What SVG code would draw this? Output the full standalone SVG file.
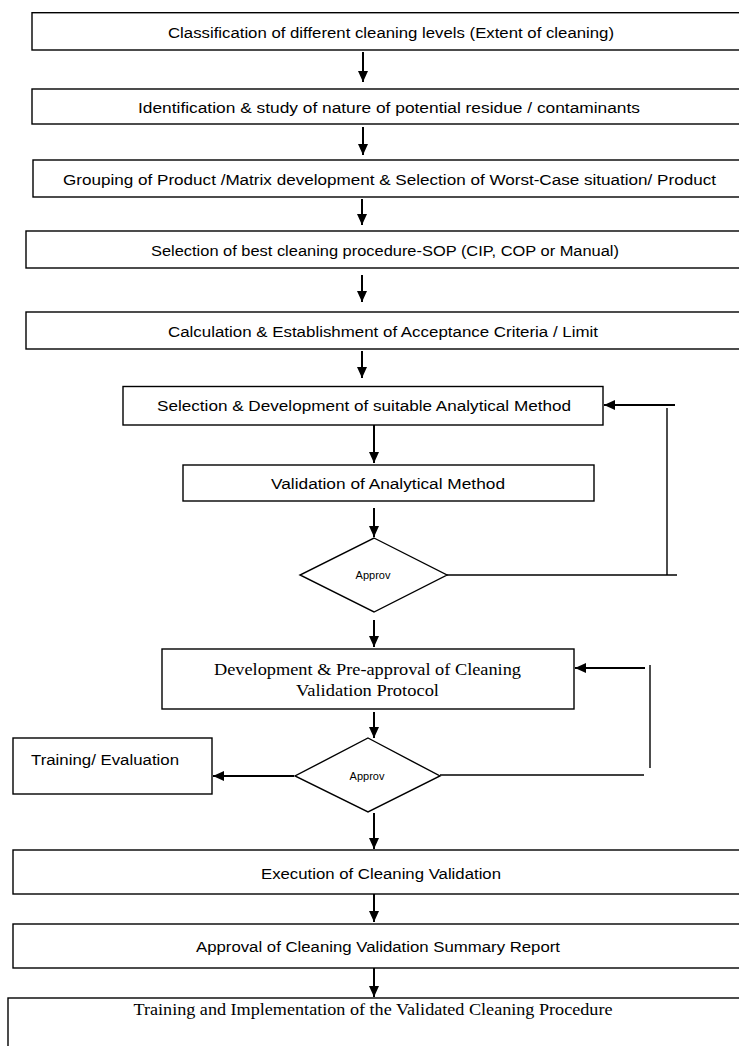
<svg xmlns="http://www.w3.org/2000/svg" width="739" height="1046" viewBox="0 0 739 1046">
<defs>
<style>
.box{fill:#fff;stroke:#000;stroke-width:1.4}
.t{font-family:"Liberation Sans",Arial,sans-serif;font-size:15.5px;fill:#000;text-anchor:middle}
.s{font-family:"Liberation Serif","Times New Roman",serif;font-size:17px;fill:#000;text-anchor:middle}
.sm{font-family:"Liberation Sans",Arial,sans-serif;font-size:11px;fill:#000;text-anchor:middle}
.ar{fill:none;stroke:#000;stroke-width:2;marker-end:url(#ah)}
.ln{fill:none;stroke:#000;stroke-width:1.4}
</style>
<marker id="ah" markerUnits="userSpaceOnUse" markerWidth="11" markerHeight="10" refX="11" refY="5" orient="auto">
<path d="M0,0 L11,5 L0,10 z" fill="#000"/>
</marker>
</defs>
<rect width="739" height="1046" fill="#fff"/>
<g id="n1"><rect class="box" x="32" y="12.7" width="740" height="37.3"/><text class="t" x="391" y="38" textLength="446" lengthAdjust="spacingAndGlyphs">Classification of different cleaning levels (Extent of cleaning)</text></g>
<g id="n2"><rect class="box" x="32" y="89" width="740" height="35"/><text class="t" x="389" y="113" textLength="502" lengthAdjust="spacingAndGlyphs">Identification &amp; study of nature of potential residue / contaminants</text></g>
<g id="n3"><rect class="box" x="33" y="160" width="740" height="37"/><text class="t" x="389.5" y="185" textLength="653" lengthAdjust="spacingAndGlyphs">Grouping of Product /Matrix development &amp; Selection of Worst-Case situation/ Product</text></g>
<g id="n4"><rect class="box" x="26" y="231" width="740" height="37"/><text class="t" x="385" y="256" textLength="468" lengthAdjust="spacingAndGlyphs">Selection of best cleaning procedure-SOP (CIP, COP or Manual)</text></g>
<g id="n5"><rect class="box" x="26" y="312" width="740" height="37"/><text class="t" x="383" y="337" textLength="430" lengthAdjust="spacingAndGlyphs">Calculation &amp; Establishment of Acceptance Criteria / Limit</text></g>
<g id="n6"><rect class="box" x="123" y="386.5" width="480" height="38.5"/><text class="t" x="364" y="411" textLength="414" lengthAdjust="spacingAndGlyphs">Selection &amp; Development of suitable Analytical Method</text></g>
<g id="n7"><rect class="box" x="183" y="465" width="411" height="36"/><text class="t" x="388" y="489" textLength="234" lengthAdjust="spacingAndGlyphs">Validation of Analytical Method</text></g>
<g id="d1"><polygon class="box" points="374,538 447,575 374,612 300,575"/><text class="sm" x="373" y="579">Approv</text></g>
<g id="n8"><rect class="box" x="162" y="649" width="412" height="60"/><text class="s" x="367.5" y="674.5" textLength="307" lengthAdjust="spacingAndGlyphs">Development &amp; Pre-approval of Cleaning</text><text class="s" x="367.5" y="696" textLength="143" lengthAdjust="spacingAndGlyphs">Validation Protocol</text></g>
<g id="d2"><polygon class="box" points="368,738 440,776 368,812 295,776"/><text class="sm" x="367" y="780">Approv</text></g>
<g id="n9"><rect class="box" x="13" y="738" width="199" height="56"/><text class="t" x="31" y="765" style="text-anchor:start" textLength="148" lengthAdjust="spacingAndGlyphs">Training/ Evaluation</text></g>
<g id="n10"><rect class="box" x="13" y="850" width="750" height="44"/><text class="t" x="381" y="878.5" textLength="240" lengthAdjust="spacingAndGlyphs">Execution of Cleaning Validation</text></g>
<g id="n11"><rect class="box" x="13" y="924" width="750" height="44"/><text class="t" x="378" y="951.5" textLength="364" lengthAdjust="spacingAndGlyphs">Approval of Cleaning Validation Summary Report</text></g>
<g id="n12"><rect class="box" x="8" y="998" width="760" height="70"/><text class="s" x="373" y="1014.5" style="font-size:16px" textLength="479" lengthAdjust="spacingAndGlyphs">Training and Implementation of the Validated Cleaning Procedure</text></g>
<g id="connectors">
<line class="ar" x1="363" y1="52" x2="363" y2="82"/>
<line class="ar" x1="363" y1="127" x2="363" y2="155"/>
<line class="ar" x1="362" y1="199" x2="362" y2="225"/>
<line class="ar" x1="362" y1="275" x2="362" y2="302"/>
<line class="ar" x1="362" y1="351" x2="362" y2="378"/>
<line class="ar" x1="374" y1="425" x2="374" y2="463"/>
<line class="ar" x1="374" y1="508" x2="374" y2="537"/>
<line class="ar" x1="374" y1="620" x2="374" y2="647"/>
<line class="ar" x1="374" y1="712" x2="374" y2="738"/>
<line class="ar" x1="374" y1="813" x2="374" y2="849"/>
<line class="ar" x1="374" y1="894" x2="374" y2="922"/>
<line class="ar" x1="374" y1="968" x2="374" y2="997"/>
<line class="ar" x1="294" y1="776" x2="213" y2="776"/>
<line class="ar" x1="675" y1="405" x2="604" y2="405"/>
<line class="ln" x1="667" y1="408" x2="667" y2="575"/>
<line class="ln" x1="447" y1="575" x2="677" y2="575"/>
<line class="ar" x1="645" y1="668" x2="575" y2="668"/>
<line class="ln" x1="650" y1="665" x2="650" y2="768"/>
<line class="ln" x1="440" y1="775" x2="644" y2="775"/>
</g>
</svg>
